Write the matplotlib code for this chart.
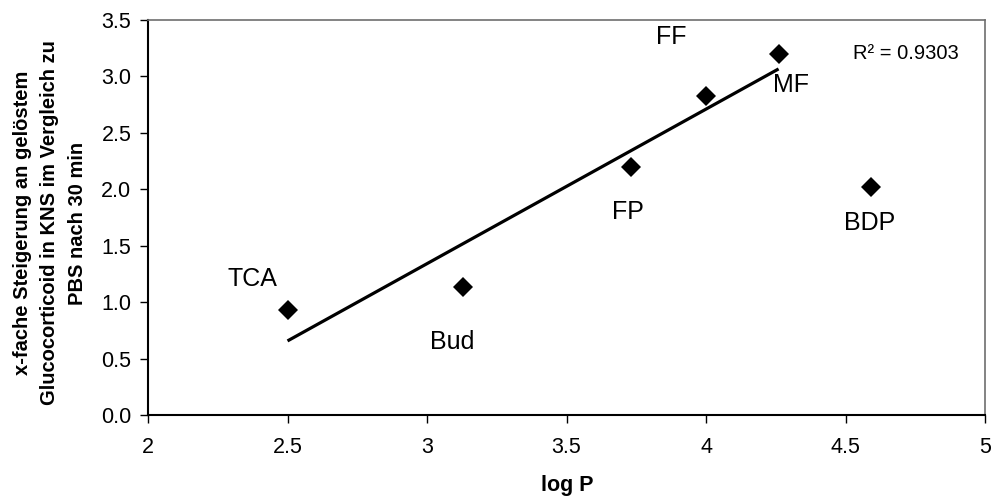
import numpy as np
import matplotlib.pyplot as plt

plt.rcParams['font.family'] = ['Liberation Sans', 'DejaVu Sans']

# log P und x-fache Steigerung je Glucocorticoid
names = ['TCA', 'Bud', 'FP', 'FF', 'MF', 'BDP']
logp = [2.50, 3.13, 3.73, 4.00, 4.26, 4.59]
steigerung = [0.93, 1.13, 2.20, 2.83, 3.20, 2.02]
in_fit = [True, True, True, True, True, False]   # BDP nicht in der Regression
r2_text = 'R² = 0.9303'

x_ticks = [2, 2.5, 3, 3.5, 4, 4.5, 5]
x_ticklabels = ['2', '2.5', '3', '3.5', '4', '4.5', '5']
y_ticks = [0.0, 0.5, 1.0, 1.5, 2.0, 2.5, 3.0, 3.5]

fig = plt.figure(figsize=(9.92, 4.97), dpi=100)
ax = fig.add_axes([0.1492, 0.165, 0.8438, 0.795])

ax.plot(logp, steigerung, linestyle='none', marker='D', ms=10.5,
        color='black', mew=0, zorder=3)

# lineare Regression ueber die ausgewaehlten Punkte
xf = np.array([x for x, k in zip(logp, in_fit) if k])
yf = np.array([y for y, k in zip(steigerung, in_fit) if k])
m, b = np.polyfit(xf, yf, 1)
xl = np.array([xf.min(), xf.max()])
ax.plot(xl, m * xl + b, color='black', lw=2.3, solid_capstyle='butt', zorder=2)

# Beschriftungen neben den Punkten (Versatz in Datenkoordinaten)
offsets = [(-0.125, 0.275), (-0.04, -0.48), (-0.01, -0.40),
           (-0.125, 0.52), (0.045, -0.28), (-0.005, -0.32)]
for n, x, y, (dx, dy) in zip(names, logp, steigerung, offsets):
    ax.text(x + dx, y + dy, n, fontsize=18, ha='center', va='center')

ax.text(4.527, 3.206, r2_text, fontsize=14.5, ha='left', va='center')

ax.set_xlim(2, 5)
ax.set_ylim(0, 3.5)
ax.set_xticks(x_ticks)
ax.set_xticklabels(x_ticklabels)
ax.set_yticks(y_ticks)
ax.set_yticklabels([f'{v:.1f}' for v in y_ticks])
ax.tick_params(axis='both', labelsize=15.5, length=6, width=1, direction='out')
ax.tick_params(axis='x', pad=10)
ax.tick_params(axis='y', pad=6)

for s in ['left', 'bottom']:
    ax.spines[s].set_linewidth(1.5)
    ax.spines[s].set_color('black')
for s in ['top', 'right']:
    ax.spines[s].set_linewidth(1.2)
    ax.spines[s].set_color('#6e6e6e')

fig.text(0.5716, 1 - 485 / 497, 'log P', fontsize=15.5, fontweight='bold',
         ha='center', va='center')
fig.text(50 / 992, 1 - 223 / 497,
         'x-fache Steigerung an gelöstem\nGlucocorticoid in KNS im Vergleich zu\nPBS nach 30 min',
         fontsize=14.5, fontweight='bold', rotation=90, ha='center', va='center',
         multialignment='center', linespacing=1.55)

fig.savefig('out.png', dpi=100)
